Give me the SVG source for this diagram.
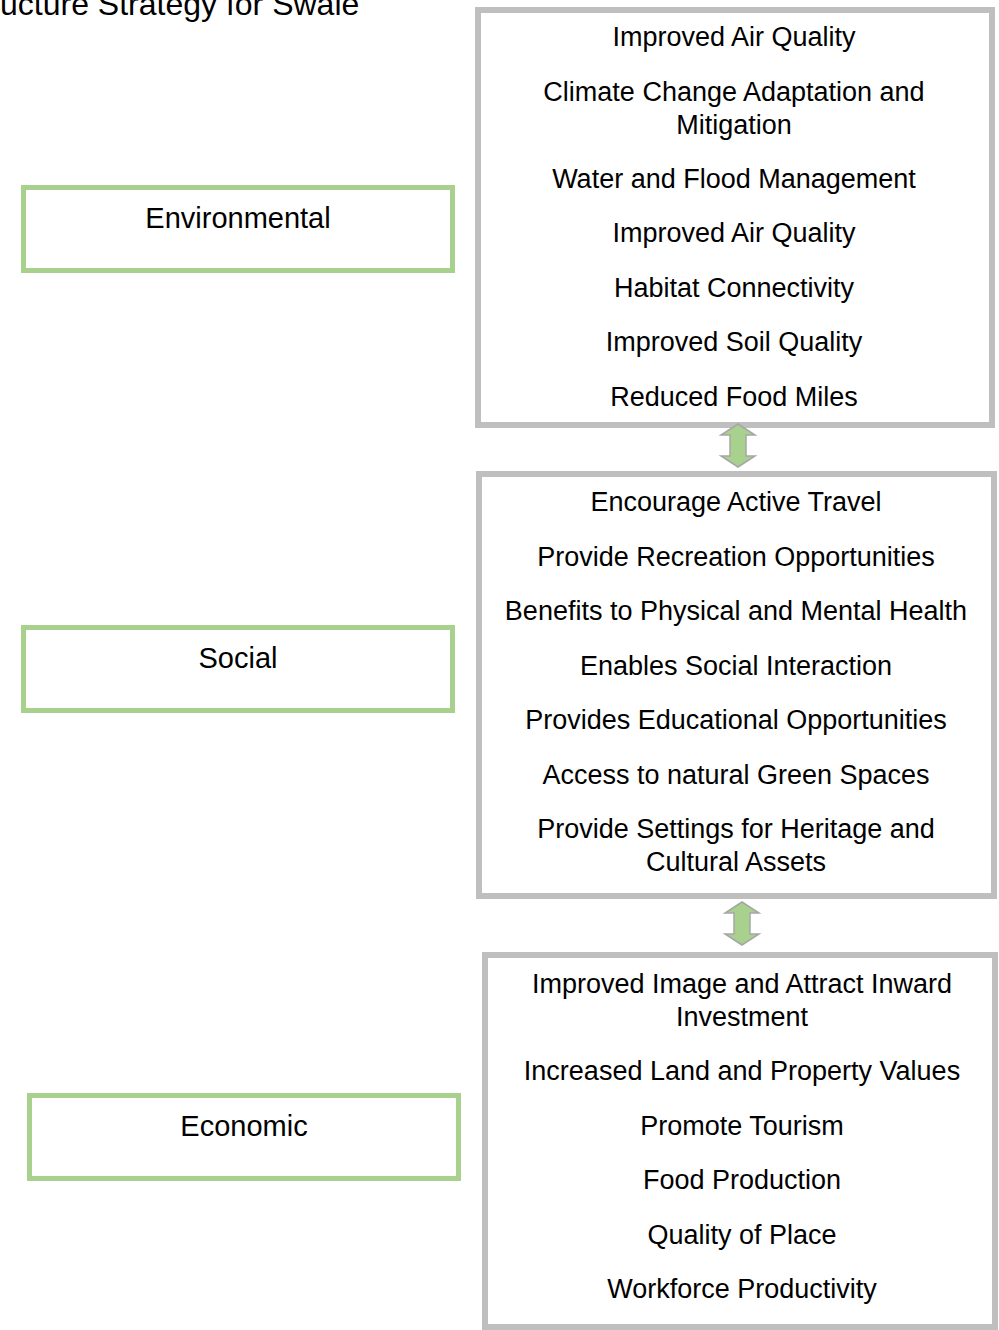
<svg xmlns="http://www.w3.org/2000/svg" width="999" height="1330" viewBox="0 0 999 1330">
<style>
text{font-family:"Liberation Sans",Arial,sans-serif;fill:#000;text-anchor:middle}
.item{font-size:27px}
.lab{font-size:29px}
.gbox{fill:#fff;stroke:#a9d18e;stroke-width:5}
.rbox{fill:#fff;stroke:#bfbfbf;stroke-width:6}
.arr{fill:#a9d18e;stroke:#a6a6a6;stroke-width:1.5}
</style>
<rect width="999" height="1330" fill="#fff"/>
<text x="0" y="15" style="font-size:32px;text-anchor:start">ucture Strategy for Swale</text>
<g id="env">
<rect class="gbox" x="23.5" y="187.5" width="429" height="83"/>
<text class="lab" x="238" y="228">Environmental</text>
</g>
<g id="soc">
<rect class="gbox" x="23.5" y="627.5" width="429" height="83"/>
<text class="lab" x="238" y="668">Social</text>
</g>
<g id="eco">
<rect class="gbox" x="29.5" y="1095.5" width="429" height="83"/>
<text class="lab" x="244" y="1136">Economic</text>
</g>
<g id="env-list">
<rect class="rbox" x="478" y="10" width="514" height="415"/>
<text class="item" x="734" y="45.5">Improved Air Quality</text>
<text class="item" x="734" y="100.5">Climate Change Adaptation and</text>
<text class="item" x="734" y="133.5">Mitigation</text>
<text class="item" x="734" y="187.5">Water and Flood Management</text>
<text class="item" x="734" y="241.5">Improved Air Quality</text>
<text class="item" x="734" y="296.5">Habitat Connectivity</text>
<text class="item" x="734" y="350.5">Improved Soil Quality</text>
<text class="item" x="734" y="405.5">Reduced Food Miles</text>
</g>
<g id="soc-list">
<rect class="rbox" x="479" y="474" width="515" height="422"/>
<text class="item" x="736" y="510.5">Encourage Active Travel</text>
<text class="item" x="736" y="565.5">Provide Recreation Opportunities</text>
<text class="item" x="736" y="619.5">Benefits to Physical and Mental Health</text>
<text class="item" x="736" y="674.5">Enables Social Interaction</text>
<text class="item" x="736" y="728.5">Provides Educational Opportunities</text>
<text class="item" x="736" y="783.5">Access to natural Green Spaces</text>
<text class="item" x="736" y="837.5">Provide Settings for Heritage and</text>
<text class="item" x="736" y="870.5">Cultural Assets</text>
</g>
<g id="eco-list">
<rect class="rbox" x="485" y="955" width="510" height="372"/>
<text class="item" x="742" y="992.5">Improved Image and Attract Inward</text>
<text class="item" x="742" y="1025.5">Investment</text>
<text class="item" x="742" y="1079.5">Increased Land and Property Values</text>
<text class="item" x="742" y="1134.5">Promote Tourism</text>
<text class="item" x="742" y="1188.5">Food Production</text>
<text class="item" x="742" y="1243.5">Quality of Place</text>
<text class="item" x="742" y="1297.5">Workforce Productivity</text>
</g>
<g id="connectors">
<path class="arr" d="M738,424 L755,435 L746,435 L746,456 L755,456 L738,467 L721,456 L730,456 L730,435 L721,435 Z"/>
<path class="arr" d="M742,902 L759,913 L750,913 L750,934 L759,934 L742,945 L725,934 L734,934 L734,913 L725,913 Z"/>
</g>
</svg>
